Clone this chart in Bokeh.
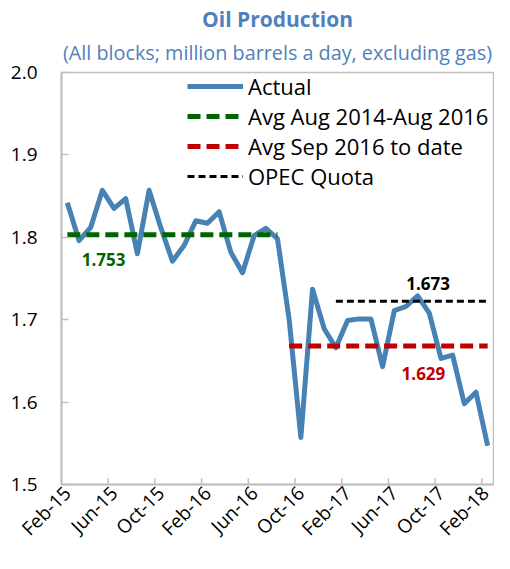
import pandas as pd
from math import pi
from bokeh.plotting import figure
from bokeh.models import (FixedTicker, Legend, LegendItem, Title, Label, Range1d)
from bokeh.embed import file_html
from bokeh.resources import INLINE

# ---------------- data ----------------
months = list(pd.date_range("2015-02-01", periods=37, freq="MS").strftime("%b-%y"))
production = [1.842, 1.796, 1.812, 1.857, 1.835, 1.847, 1.780, 1.857, 1.812, 1.771,
              1.790, 1.820, 1.817, 1.831, 1.782, 1.757, 1.802, 1.811, 1.798, 1.700,
              1.557, 1.737, 1.689, 1.666, 1.699, 1.701, 1.701, 1.643, 1.711, 1.716,
              1.729, 1.708, 1.653, 1.657, 1.598, 1.612, 1.547]
avg_pre_level = 1.803      # drawn level, Aug 2014 - Aug 2016
avg_pre_span = ("Feb-15", "Aug-16")
avg_post_level = 1.668     # drawn level, Sep 2016 to date
avg_post_span = ("Sep-16", "Feb-18")
opec_level = 1.7225        # drawn level, OPEC quota
opec_span = ("Jan-17", "Feb-18")
avg_pre_label = "1.753"
avg_post_label = "1.629"
opec_label = "1.673"
y_ticks = [1.5, 1.6, 1.7, 1.8, 1.9, 2.0]
x_label_months = months[::4]

FONT = "Open Sans"
BLUE_TXT = "#4F81BD"
LINE_BLUE = "#4682B4"
GREEN = "#006400"
RED = "#C00000"
GRAY = "#BFBFBF"

xi = list(range(len(months)))
idx = {m: i for i, m in enumerate(months)}

p = figure(width=494, height=553, output_backend="svg", toolbar_location=None,
           x_range=Range1d(-0.5, len(months) - 0.5), y_range=Range1d(y_ticks[0], y_ticks[-1]),
           min_border_left=61, min_border_right=1, min_border_top=72, min_border_bottom=66)
p.grid.visible = False
p.outline_line_color = GRAY
p.outline_line_width = 1.5

# axes
xa = p.xaxis[0]
xa.ticker = FixedTicker(ticks=[idx[m] for m in x_label_months])
xa.major_label_overrides = {idx[m]: m for m in x_label_months}
xa.major_label_orientation = pi / 4
xa.major_tick_in = 0
xa.major_tick_out = 0
xa.minor_tick_line_color = None
xa.axis_line_color = GRAY
xa.axis_line_width = 2
xa.major_label_text_font = FONT
xa.major_label_text_font_size = "19px"
xa.major_label_text_color = "black"
xa.major_label_standoff = 5

ya = p.yaxis[0]
ya.ticker = FixedTicker(ticks=y_ticks)
ya.major_label_overrides = {t: f"{t:.1f}" for t in y_ticks}
ya.major_tick_in = 7
ya.major_tick_out = 0
ya.major_tick_line_color = GRAY
ya.major_tick_line_width = 1.5
ya.minor_tick_line_color = None
ya.axis_line_color = GRAY
ya.axis_line_width = 2
ya.major_label_text_font = FONT
ya.major_label_text_font_size = "19px"
ya.major_label_text_color = "black"
ya.major_label_standoff = 24

# x tick marks between categories (inside)
bounds = [idx[m] - 0.5 for m in x_label_months[1:]]
p.segment(x0=bounds, x1=bounds, y0=[y_ticks[0]] * len(bounds),
          y1=[y_ticks[0] + 0.0075] * len(bounds), line_color=GRAY, line_width=1.5)

# series
r_act = p.line(xi, production, line_color=LINE_BLUE, line_width=5, line_join="round")
r_pre = p.line([idx[avg_pre_span[0]], idx[avg_pre_span[1]]], [avg_pre_level] * 2,
               line_color=GREEN, line_width=5, line_dash="13 6")
r_post = p.line([idx[avg_post_span[0]], idx[avg_post_span[1]]], [avg_post_level] * 2,
                line_color=RED, line_width=5, line_dash="13 6")
r_opec = p.line([idx[opec_span[0]], idx[opec_span[1]]], [opec_level] * 2,
                line_color="black", line_width=3, line_dash="7 4")

# value labels
for x, y, t, c in [(3.1, avg_pre_level - 0.03, avg_pre_label, GREEN),
                   (30.5, avg_post_level - 0.033, avg_post_label, RED),
                   (30.9, opec_level + 0.022, opec_label, "black")]:
    p.add_layout(Label(x=x, y=y, text=t, text_align="center", text_baseline="middle",
                       text_font=FONT, text_font_style="bold", text_font_size="17px",
                       text_color=c))

legend = Legend(items=[LegendItem(label="Actual", renderers=[r_act]),
                       LegendItem(label="Avg Aug 2014-Aug 2016", renderers=[r_pre]),
                       LegendItem(label="Avg Sep 2016 to date", renderers=[r_post]),
                       LegendItem(label="OPEC Quota", renderers=[r_opec])],
                location=(126, 293), border_line_color=None, background_fill_alpha=0,
                padding=0, margin=0, spacing=0, label_height=29, glyph_width=56,
                glyph_height=20, label_standoff=5, label_text_font=FONT,
                label_text_font_size="22px", label_text_color="black")
p.add_layout(legend)

p.add_layout(Title(text="(All blocks; million barrels a day, excluding gas)", align="center",
                   text_font=FONT, text_font_style="normal", text_font_size="19.8px",
                   text_color=BLUE_TXT, standoff=13), "above")
p.add_layout(Title(text="Oil Production", align="center", text_font=FONT,
                   text_font_style="bold", text_font_size="21px", text_color=BLUE_TXT,
                   standoff=-4), "above")

open("out.html", "w").write(file_html(p, INLINE))
